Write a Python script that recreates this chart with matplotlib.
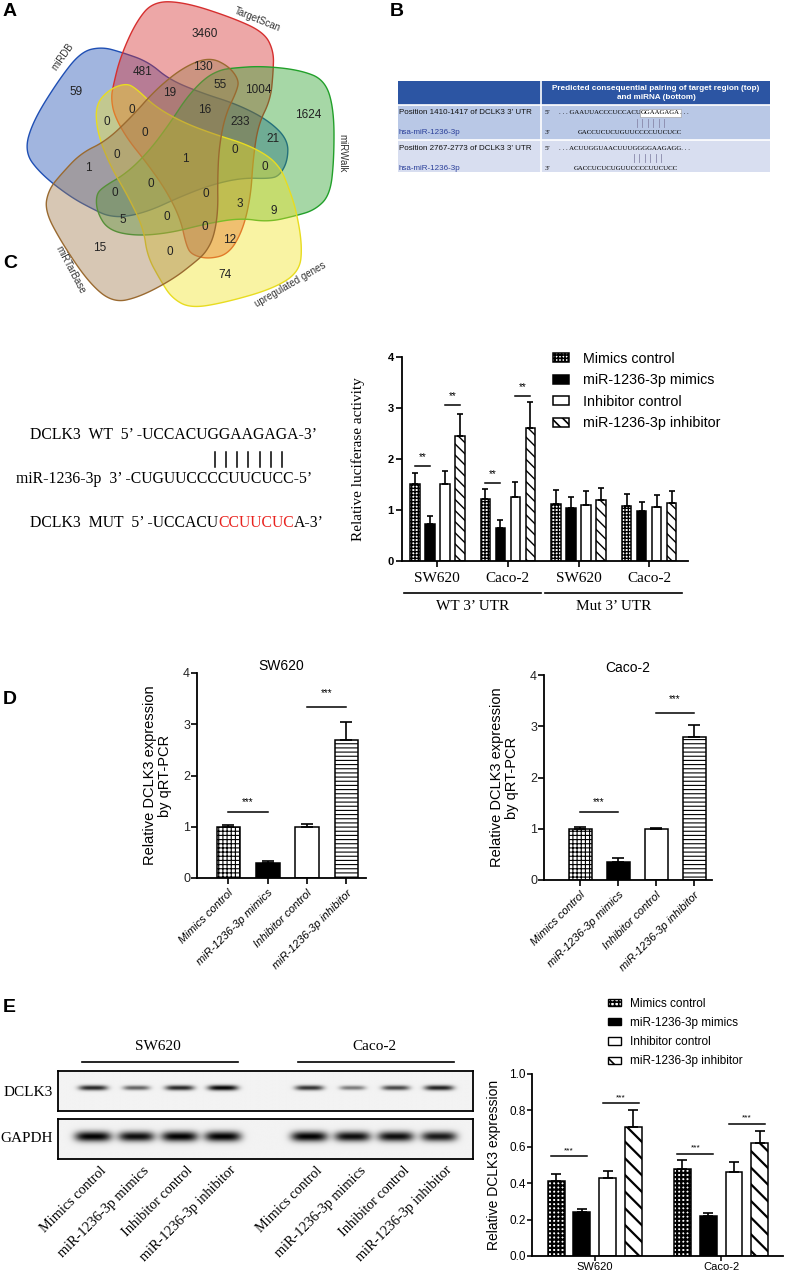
import numpy as np
import matplotlib
matplotlib.use("Agg")
import matplotlib.pyplot as plt
from matplotlib.patches import Rectangle, Polygon, Patch
import matplotlib.transforms as mtransforms

# ======================= DATA =======================
venn_sets = ["miRDB", "TargetScan", "miRWalk", "upregulated genes", "miRTarBase"]
venn_counts = [3460, 481, 130, 59, 19, 55, 1004, 0, 16, 233, 1624, 0, 0, 21, 0,
               1, 0, 1, 0, 0, 0, 0, 3, 9, 5, 0, 0, 12, 15, 0, 74]

treatments = ["Mimics control", "miR-1236-3p mimics", "Inhibitor control", "miR-1236-3p inhibitor"]

luc_groups = ["SW620", "Caco-2", "SW620", "Caco-2"]
luc_utr = ["WT 3’ UTR", "Mut 3’ UTR"]
luc_mimics_ctrl = [1.50, 1.22, 1.12, 1.08]
luc_mimics = [0.73, 0.64, 1.03, 0.98]
luc_inhib_ctrl = [1.50, 1.25, 1.09, 1.05]
luc_inhib = [2.46, 2.60, 1.20, 1.14]
luc_mimics_ctrl_sd = [0.23, 0.20, 0.27, 0.23]
luc_mimics_sd = [0.15, 0.16, 0.23, 0.18]
luc_inhib_ctrl_sd = [0.26, 0.29, 0.28, 0.24]
luc_inhib_sd = [0.43, 0.51, 0.24, 0.24]
luc_sig_group = [0, 0, 1, 1]
luc_sig_pair = [(0, 1), (2, 3), (0, 1), (2, 3)]
luc_sig_height = [1.86, 3.06, 1.53, 3.24]

qpcr_sw620 = [1.00, 0.30, 1.00, 2.70]
qpcr_sw620_sd = [0.03, 0.03, 0.05, 0.34]
qpcr_caco2 = [1.00, 0.35, 1.00, 2.80]
qpcr_caco2_sd = [0.03, 0.07, 0.02, 0.23]
qpcr_sw620_sig = [1.29, 3.33]
qpcr_caco2_sig = [1.33, 3.25]

wb_cells = ["SW620", "Caco-2"]
wb_mimics_ctrl = [0.41, 0.48]
wb_mimics = [0.24, 0.22]
wb_inhib_ctrl = [0.43, 0.46]
wb_inhib = [0.71, 0.62]
wb_mimics_ctrl_sd = [0.04, 0.045]
wb_mimics_sd = [0.02, 0.015]
wb_inhib_ctrl_sd = [0.035, 0.055]
wb_inhib_sd = [0.09, 0.065]
wb_sig_group = [0, 0, 1, 1]
wb_sig_pair = [(0, 1), (2, 3), (0, 1), (2, 3)]
wb_sig_height = [0.55, 0.838, 0.563, 0.728]

blot_lanes = [0, 1, 2, 3, 5, 6, 7, 8]
blot_dclk3 = [0.85, 0.60, 0.85, 1.00, 0.80, 0.50, 0.72, 0.88]
blot_gapdh = [1.0, 0.95, 1.0, 1.0, 1.0, 0.95, 0.95, 0.9]

# ======================= STYLE / LAYOUT =======================
plt.rcParams['font.family'] = ['Liberation Sans', 'DejaVu Sans']
plt.rcParams['hatch.linewidth'] = 1.2
plt.rcParams['axes.linewidth'] = 1.3
SERIF = ['Liberation Serif', 'DejaVu Serif']

W, H = 788, 1273
fig = plt.figure(figsize=(W / 100, H / 100), dpi=100)


def box(x0, y0, x1, y1):
    return [x0 / W, 1 - y1 / H, (x1 - x0) / W, (y1 - y0) / H]


ov = fig.add_axes([0, 0, 1, 1], zorder=10)
ov.set_xlim(0, W)
ov.set_ylim(H, 0)
ov.axis('off')

for lab, (x, y) in zip("ABCDE", [(3, 11), (390, 11), (3, 263), (3, 700), (3, 1008)]):
    ov.text(x, y, lab, fontsize=14, fontweight='bold', va='center', ha='left')

# ---------------- Panel A : Venn ----------------
axA = fig.add_axes(box(0, 0, 345, 312))
axA.set_xlim(0, 345)
axA.set_ylim(312, 0)
axA.axis('off')

VC = (185.0, 159.0)
template = np.array([(233, 68), (262, 66), (300, 70), (325, 80), (334, 110), (334, 160),
                     (330, 195), (315, 210), (295, 216), (268, 222), (240, 218), (205, 224),
                     (170, 233), (135, 236), (108, 230), (97, 212), (96, 195), (103, 187),
                     (127, 173), (150, 150), (170, 123), (187, 97), (205, 78), (220, 70)], float)


def chaikin(p, n=4):
    p = np.asarray(p, float)
    for _ in range(n):
        q = 0.75 * p + 0.25 * np.roll(p, -1, axis=0)
        r = 0.25 * p + 0.75 * np.roll(p, -1, axis=0)
        p = np.empty((2 * len(q), 2))
        p[0::2] = q
        p[1::2] = r
    return p


def rot(p, deg):
    a = np.deg2rad(deg)
    dx = p[:, 0] - VC[0]
    dy = VC[1] - p[:, 1]
    x = dx * np.cos(a) - dy * np.sin(a)
    y = dx * np.sin(a) + dy * np.cos(a)
    return np.column_stack([VC[0] + x, VC[1] - y])


venn_rot = [148, 72, 0, -74, -146]
venn_fill = ['#1f4fb4', '#d62f2f', '#2ca02c', '#f2e424', '#a07a4e']
venn_edge = ['#1f4fb4', '#d62f2f', '#22a02a', '#e8dc20', '#9a6a30']
smooth = chaikin(template, 5)
for ang, fc, ec in zip(venn_rot, venn_fill, venn_edge):
    pts = rot(smooth, ang)
    axA.add_patch(Polygon(pts, closed=True, facecolor=fc, alpha=0.42, edgecolor='none'))
    axA.add_patch(Polygon(pts, closed=True, facecolor='none', edgecolor=ec, lw=1.0))

venn_xy = [(205, 34), (143, 72), (203, 67), (76, 92), (170, 93), (220, 85), (258, 90),
           (132, 110), (205, 110), (240, 122), (308, 115), (107, 122), (145, 133),
           (273, 139), (117, 155), (185, 159), (235, 150), (88, 168), (265, 167),
           (115, 193), (151, 184), (206, 194), (240, 204), (274, 211), (123, 220),
           (167, 217), (205, 227), (230, 240), (100, 248), (170, 252), (225, 275)]
for c, (x, y) in zip(venn_counts, venn_xy):
    axA.text(x, y, str(c), fontsize=8.5, ha='center', va='center', color='#222222')

venn_label_xy = [(63, 57), (257, 20), (342, 153), (290, 285), (70, 270)]
venn_label_rot = [55, -22, -90, 30, -62]
for s, (x, y), r in zip(venn_sets, venn_label_xy, venn_label_rot):
    axA.text(x, y, s, fontsize=7, ha='center', va='center', rotation=r, color='#333333')

# ---------------- Panel B : table ----------------
ov.add_patch(Rectangle((398, 81), 372, 24, facecolor='#2c55a3', edgecolor='none'))
ov.add_patch(Rectangle((398, 105), 372, 35, facecolor='#b9c8e6', edgecolor='none'))
ov.add_patch(Rectangle((398, 140), 372, 32, facecolor='#d8def0', edgecolor='none'))
ov.plot([541, 541], [81, 172], color='white', lw=1.2)
ov.plot([398, 770], [105, 105], color='white', lw=1.2)
ov.plot([398, 770], [140, 140], color='white', lw=1.2)
ov.text(656, 93, "Predicted consequential pairing of target region (top)\nand miRNA (bottom)",
        color='white', fontsize=5.9, fontweight='bold', ha='center', va='center', linespacing=1.25)
ov.text(399, 113, "Position 1410-1417 of DCLK3 3’ UTR", fontsize=5.75, va='center', color='#111111')
ov.text(399, 133, "hsa-miR-1236-3p", fontsize=5.75, va='center', color='#2a3f9a')
ov.text(399, 149, "Position 2767-2773 of DCLK3 3’ UTR", fontsize=5.75, va='center', color='#111111')
ov.text(399, 168, "hsa-miR-1236-3p", fontsize=5.75, va='center', color='#2a3f9a')
for yy, s in [(113, "5’"), (133, "3’"), (149, "5’"), (168, "3’")]:
    ov.text(545, yy, s, fontsize=5.2, va='center', family=SERIF)
t1 = ov.text(559, 113, ". . . GAAUUACCCUCCACU", fontsize=4.9, va='center', family=SERIF)
t1b = ov.annotate("GGAAGAGA", xy=(1, 0.5), xycoords=t1, va='center', ha='left', fontsize=4.9,
                  family=SERIF, bbox=dict(boxstyle='square,pad=0.15', fc='white', ec='#999999', lw=0.4))
ov.annotate(". . .", xy=(1, 0.5), xycoords=t1b, va='center', ha='left', fontsize=4.9, family=SERIF)
ov.text(578, 133, "GACCUCUCUGUUCCCCUUCUCC", fontsize=4.9, va='center', family=SERIF)
ov.text(559, 149, ". . . ACUUGGUAACUUUGGGGAAGAGG. . .", fontsize=4.9, va='center', family=SERIF)
ov.text(574, 168, "GACCUCUCUGUUCCCCUUCUCC", fontsize=4.9, va='center', family=SERIF)
for xx in np.linspace(637, 664, 6):
    ov.plot([xx, xx], [119, 127], color='#8888aa', lw=0.6)
for xx in np.linspace(634, 661, 6):
    ov.plot([xx, xx], [154, 162], color='#8888aa', lw=0.6)

# ---------------- Panel C left : sequences ----------------
ov.text(30, 435, "DCLK3  WT  5’ -UCCACUGGAAGAGA-3’", fontsize=11.3, family=SERIF, va='center')
ov.text(16, 479, "miR-1236-3p  3’ -CUGUUCCCCUUCUCC-5’", fontsize=11.3, family=SERIF, va='center')
for xx in np.linspace(215, 282, 7):
    ov.plot([xx, xx], [452, 467], color='black', lw=1.1)
m1 = ov.text(30, 523, "DCLK3  MUT  5’ -UCCACU", fontsize=11.3, family=SERIF, va='center')
m2 = ov.annotate("CCUUCUC", xy=(1, 0), xycoords=m1, va='bottom', ha='left', fontsize=11.3,
                 family=SERIF, color='#e8231f')
ov.annotate("A-3’", xy=(1, 0), xycoords=m2, va='bottom', ha='left', fontsize=11.3, family=SERIF)


# ---------------- bar helpers ----------------
def draw_bars(ax, xs, vals, sds, width, style, capsize, hlw):
    bars = ax.bar(xs, vals, width, edgecolor='black', linewidth=1.1, zorder=2, **style)
    for b in bars:
        if hasattr(b, 'set_hatch_linewidth'):
            b.set_hatch_linewidth(hlw)
    ax.errorbar(xs, vals, yerr=[np.zeros(len(vals)), sds], fmt='none', ecolor='black',
                elinewidth=1.2, capsize=capsize, capthick=1.2, zorder=3)


def sig(ax, x0, x1, h, label, dh, fs):
    ax.plot([x0, x1], [h, h], color='black', lw=1.1, zorder=3)
    ax.text((x0 + x1) / 2, h + dh, label, ha='center', va='center', fontsize=fs)


def clean(ax):
    ax.spines['top'].set_visible(False)
    ax.spines['right'].set_visible(False)


# ---------------- Panel C : luciferase ----------------
axC = fig.add_axes(box(402, 357, 688, 561))
clean(axC)
stylesC = [dict(facecolor='white', hatch='+++++'), dict(facecolor='black'),
           dict(facecolor='white'), dict(facecolor='white', hatch='\\\\\\')]
luc_means = [luc_mimics_ctrl, luc_mimics, luc_inhib_ctrl, luc_inhib]
luc_sds = [luc_mimics_ctrl_sd, luc_mimics_sd, luc_inhib_ctrl_sd, luc_inhib_sd]
gx = np.arange(len(luc_groups))
stepC, bwC = 0.213, 0.135
for k in range(4):
    draw_bars(axC, gx + (k - 1.5) * stepC, luc_means[k], luc_sds[k], bwC, stylesC[k], 2.3, 1.0)
for g, (a, b), h in zip(luc_sig_group, luc_sig_pair, luc_sig_height):
    sig(axC, g + (a - 1.5) * stepC, g + (b - 1.5) * stepC, h, "**", 0.17, 7)
axC.set_xlim(-0.5, 3.55)
axC.set_ylim(0, 4)
axC.set_yticks([0, 1, 2, 3, 4])
axC.set_yticklabels(['0', '1', '2', '3', '4'], fontweight='bold', fontsize=8)
axC.set_xticks(gx)
axC.set_xticklabels(luc_groups, family=SERIF, fontsize=11)
axC.tick_params(axis='x', length=4, width=1.2, pad=4)
axC.tick_params(axis='y', length=4, width=1.2, pad=2)
axC.set_ylabel("Relative luciferase activity", family=SERIF, fontsize=11)
axC.yaxis.set_label_coords(-0.13, 0.5)
trC = mtransforms.blended_transform_factory(axC.transData, axC.transAxes)
for (g0, g1), lab in zip([(0, 1), (2, 3)], luc_utr):
    axC.plot([g0 - 0.47, g1 + 0.47], [-0.157, -0.157], color='black', lw=1.2,
             transform=trC, clip_on=False)
    axC.text((g0 + g1) / 2, -0.225, lab, transform=trC, ha='center', va='center',
             family=SERIF, fontsize=11)

handlesC = [Patch(edgecolor='black', linewidth=1.1, **s) for s in stylesC]
fig.legend(handlesC, treatments, loc='upper left', bbox_to_anchor=(553 / W, 1 - 352 / H),
           frameon=False, fontsize=10.3, handlelength=1.1, handleheight=0.6,
           labelspacing=0.52, handletextpad=1.0, borderaxespad=0, borderpad=0)

# ---------------- Panel D : qRT-PCR ----------------
stylesD = [dict(facecolor='white', hatch='++++'), dict(facecolor='black'),
           dict(facecolor='white'), dict(facecolor='white', hatch='----')]
for rect, title, vals, sds, sigs, xl in [
        ((197, 673, 366, 878), "SW620", qpcr_sw620, qpcr_sw620_sd, qpcr_sw620_sig, (-0.8, 3.5)),
        ((544, 675, 712, 880), "Caco-2", qpcr_caco2, qpcr_caco2_sd, qpcr_caco2_sig, (-0.95, 3.47))]:
    ax = fig.add_axes(box(*rect))
    clean(ax)
    xs = np.arange(len(treatments))
    for k in range(4):
        draw_bars(ax, [xs[k]], [vals[k]], [sds[k]], 0.6, stylesD[k], 4.3, 0.8)
    sig(ax, xs[0], xs[1], sigs[0], "***", 0.2, 7)
    sig(ax, xs[2], xs[3], sigs[1], "***", 0.28, 7)
    ax.set_xlim(*xl)
    ax.set_ylim(0, 4)
    ax.set_yticks([0, 1, 2, 3, 4])
    ax.tick_params(axis='y', labelsize=9, length=4, width=1.2, pad=1, labelcolor='#222222')
    ax.set_xticks(xs)
    ax.set_xticklabels(treatments, rotation=45, ha='right', rotation_mode='anchor',
                       fontsize=8, style='italic')
    ax.tick_params(axis='x', length=4, width=1.2, pad=3)
    ax.set_title(title, fontsize=10, pad=2)
    ax.set_ylabel("Relative DCLK3 expression\nby qRT-PCR", fontsize=10.5, linespacing=1.1)
    ax.yaxis.set_label_coords(-0.15, 0.5)

# ---------------- Panel E : western blot ----------------
xl_blot = (-0.81, 8.78)
for rect, amps, yc, thick, wid in [((58, 1071, 473, 1111), blot_dclk3, 0.58, 0.065, 0.33),
                                   ((58, 1119, 473, 1159), blot_gapdh, 0.55, 0.12, 0.4)]:
    axb = fig.add_axes(box(*rect))
    xsg = np.linspace(*xl_blot, 900)
    ysg = np.linspace(0, 1, 90)
    X, Y = np.meshgrid(xsg, ysg)
    I = np.zeros_like(X)
    for ln, a in zip(blot_lanes, amps):
        w = wid * (0.75 + 0.3 * a)
        I += a * np.exp(-np.abs((X - ln) / w) ** 4) * np.exp(-((Y - yc) / (thick * (0.7 + 0.35 * a))) ** 2)
    img = 0.95 - 0.95 * np.clip(I, 0, 1)
    axb.imshow(img, cmap='gray', vmin=0, vmax=1, extent=[xl_blot[0], xl_blot[1], 0, 1],
               aspect='auto', origin='lower', interpolation='bilinear')
    axb.set_xlim(*xl_blot)
    axb.set_ylim(0, 1)
    axb.set_xticks([])
    axb.set_yticks([])
    for sp in axb.spines.values():
        sp.set_linewidth(1.3)
    trb = mtransforms.blended_transform_factory(axb.transData, axb.transAxes)
    if amps is blot_gapdh:
        for ln, lab in zip(blot_lanes, treatments * 2):
            axb.text(ln + 0.15, -0.12, lab, transform=trb, rotation=45, ha='right', va='top',
                     rotation_mode='anchor', family=SERIF, fontsize=10.3)
    else:
        for l0, l1, lab in [(0, 3, "SW620"), (5, 8, "Caco-2")]:
            axb.plot([l0 - 0.26, l1 + 0.35], [1.23, 1.23], color='black', lw=1.2,
                     transform=trb, clip_on=False)
            axb.text((l0 + l1) / 2, 1.62, lab, transform=trb, ha='center', va='center',
                     family=SERIF, fontsize=11)
ov.text(53, 1092, "DCLK3", family=SERIF, fontsize=11, ha='right', va='center')
ov.text(53, 1139, "GAPDH", family=SERIF, fontsize=11, ha='right', va='center')

# ---------------- Panel E : quantification ----------------
axE = fig.add_axes(box(532, 1074, 783, 1256))
clean(axE)
stylesE = [dict(facecolor='white', hatch='++++'), dict(facecolor='black'),
           dict(facecolor='white'), dict(facecolor='white', hatch='\\\\')]
wb_means = [wb_mimics_ctrl, wb_mimics, wb_inhib_ctrl, wb_inhib]
wb_sds = [wb_mimics_ctrl_sd, wb_mimics_sd, wb_inhib_ctrl_sd, wb_inhib_sd]
ex = np.arange(len(wb_cells))
stepE, bwE = 0.204, 0.134
for k in range(4):
    draw_bars(axE, ex + (k - 1.5) * stepE, wb_means[k], wb_sds[k], bwE, stylesE[k], 3.5, 1.6)
for g, (a, b), h in zip(wb_sig_group, wb_sig_pair, wb_sig_height):
    sig(axE, g + (a - 1.7) * stepE, g + (b - 1.3) * stepE, h, "***", 0.03, 6)
axE.set_xlim(-0.497, 1.49)
axE.set_ylim(0, 1.0)
axE.set_yticks([0, 0.2, 0.4, 0.6, 0.8, 1.0])
axE.set_yticklabels(['0.0', '0.2', '0.4', '0.6', '0.8', '1.0'])
axE.tick_params(axis='y', labelsize=8.5, length=3.5, width=1.1, pad=1)
axE.set_xticks(ex)
axE.set_xticklabels(wb_cells, fontsize=8)
axE.tick_params(axis='x', length=3.5, width=1.1, pad=1)
axE.set_ylabel("Relative DCLK3 expression", fontsize=10)
axE.yaxis.set_label_coords(-0.125, 0.5)
handlesE = [Patch(edgecolor='black', linewidth=1.0, **s) for s in stylesE]
fig.legend(handlesE, treatments, loc='upper left', bbox_to_anchor=(608 / W, 1 - 998 / H),
           frameon=False, fontsize=8.5, handlelength=1.1, handleheight=0.55,
           labelspacing=0.6, handletextpad=0.8, borderaxespad=0, borderpad=0)

fig.savefig("out.png", dpi=100)
